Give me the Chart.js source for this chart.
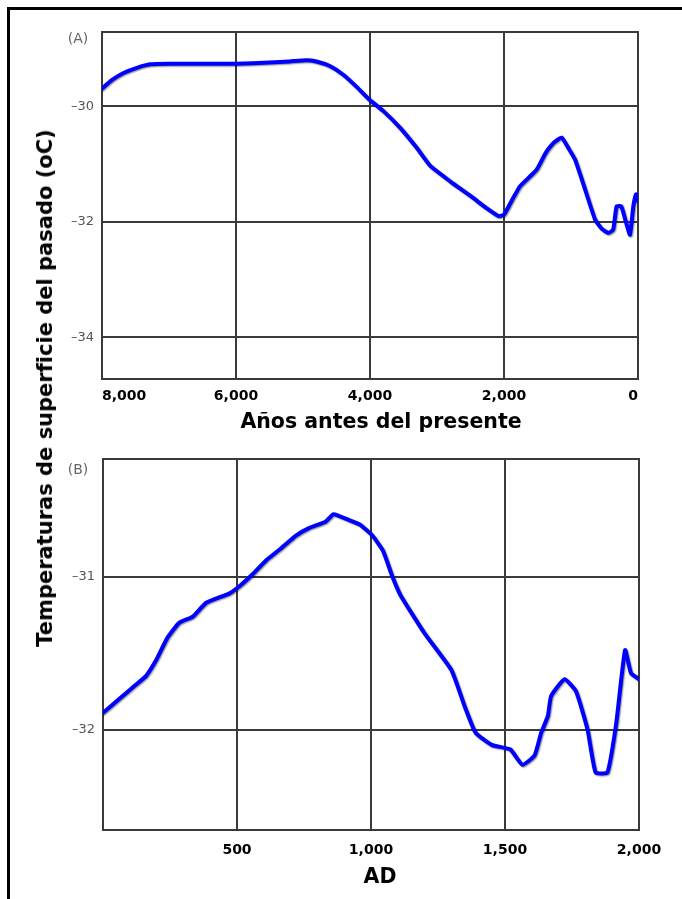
<!DOCTYPE html>
<html lang="es">
<head>
<meta charset="utf-8">
<title>Temperaturas de superficie del pasado</title>
<script src="https://cdn.jsdelivr.net/npm/chart.js@4.4.1/dist/chart.umd.min.js"></script>
<style>
  html, body { margin: 0; padding: 0; background: #fff; }
  body { width: 682px; height: 899px; position: relative; overflow: hidden; }
  .frame { position: absolute; left: 7px; top: 7px; width: 720px; height: 940px;
           border-left: 3px solid #000; border-top: 3px solid #000; }
  canvas { position: absolute; left: 0; }
  #chartA { top: 0; }
  #chartB { top: 440px; }
  .txt { position: absolute; white-space: nowrap; transform: translate(-50%, -50%);
         font-family: "DejaVu Sans", sans-serif; }
  .title { font-weight: bold; font-size: 20.5px; color: #000; }
  .panel { font-size: 14px; color: #666; }
  #ytitle { left: 45px; top: 388px; transform: translate(-50%, -50%) rotate(-90deg); font-size: 21px; }
  #xtitleA { left: 381px; top: 421px; }
  #xtitleB { left: 380px; top: 876px; }
  #labA { left: 78px; top: 38px; }
  #labB { left: 78px; top: 469px; }
</style>
</head>
<body>
<div class="frame"></div>
<canvas id="chartA" width="682" height="440"></canvas>
<canvas id="chartB" width="682" height="459"></canvas>
<div class="txt title" id="ytitle">Temperaturas de superficie del pasado (oC)</div>
<div class="txt title" id="xtitleA">Años antes del presente</div>
<div class="txt title" id="xtitleB">AD</div>
<div class="txt panel" id="labA">(A)</div>
<div class="txt panel" id="labB">(B)</div>

<script>
// (A) Holocene record: years before present and surface temperature (°C)
const yearsA = [8000, 7850, 7680, 7480, 7280, 7000, 6500, 6000, 5500, 5200, 4950, 4800,
                4600, 4400, 4200, 4020, 3800, 3550, 3300, 3100, 2800, 2500, 2250, 2080,
                2000, 1880, 1760, 1620, 1510, 1400, 1360, 1250, 1140, 1040, 940, 800,
                640, 540, 440, 370, 320, 250, 190, 120, 70, 30, 0];
const tempA  = [-29.69, -29.54, -29.42, -29.33, -29.27, -29.26, -29.26, -29.26, -29.24, -29.22, -29.20, -29.22,
                -29.30, -29.45, -29.66, -29.87, -30.08, -30.37, -30.72, -31.03, -31.30, -31.55, -31.77, -31.90,
                -31.87, -31.62, -31.38, -31.22, -31.09, -30.85, -30.77, -30.62, -30.54, -30.72, -30.92, -31.40,
                -31.96, -32.12, -32.19, -32.13, -31.73, -31.73, -31.96, -32.22, -31.73, -31.52, -31.64];

// (B) last two millennia: calendar year AD and surface temperature (°C)
const yearsB = [0, 60, 120, 160, 200, 240, 285, 335, 385, 470, 510, 560, 610, 660, 720,
                770, 830, 860, 920, 960, 1005, 1045, 1080, 1110, 1200, 1300, 1350, 1390,
                1450, 1520, 1565, 1610, 1635, 1660, 1672, 1722, 1765, 1808, 1838, 1882,
                1915, 1948, 1970, 2000];
const tempB  = [-31.89, -31.80, -31.71, -31.65, -31.54, -31.40, -31.30, -31.26, -31.17, -31.11, -31.06, -30.98, -30.89, -30.82, -30.73,
                -30.68, -30.64, -30.59, -30.63, -30.66, -30.73, -30.83, -31.00, -31.12, -31.37, -31.61, -31.85, -32.02,
                -32.10, -32.13, -32.23, -32.17, -32.02, -31.91, -31.78, -31.67, -31.75, -32.00, -32.28, -32.28,
                -31.96, -31.48, -31.63, -31.67];

// tick positions and their printed labels
const xTicksA = [0, 2000, 4000, 6000, 8000];
const xTickLabelsA = ['0', '2,000', '4,000', '6,000', '8,000'];
const yTicksA = [-34, -32, -30];
const yTickLabelsA = ['\u201334', '\u201332', '\u201330'];

const xTicksB = [0, 500, 1000, 1500, 2000];
const xTickLabelsB = ['', '500', '1,000', '1,500', '2,000'];
const yTicksB = [-32, -31];
const yTickLabelsB = ['\u201332', '\u201331'];

const GRID = '#3a3a3a';

// soft dark edge under the blue trace
const traceShadow = {
  id: 'traceShadow',
  beforeDatasetDraw(chart) {
    const c = chart.ctx;
    c.save();
    c.shadowColor = 'rgba(0,0,0,0.45)';
    c.shadowBlur = 1.5;
    c.shadowOffsetX = 1;
    c.shadowOffsetY = 1;
  },
  afterDatasetDraw(chart) { chart.ctx.restore(); }
};

// box round the plotting area
const plotFrame = {
  id: 'plotFrame',
  beforeDatasetsDraw(chart) {
    const a = chart.chartArea, c = chart.ctx;
    c.save();
    c.strokeStyle = GRID;
    c.lineWidth = 2;
    c.strokeRect(a.left, a.top, a.right - a.left, a.bottom - a.top);
    c.restore();
  }
};

function labelFor(ticks, labels) {
  return (v) => { const i = ticks.indexOf(v); return i >= 0 ? labels[i] : ''; };
}

function makeChart(id, xs, ys, opt) {
  const points = xs.map((x, i) => ({ x: x, y: ys[i] }));
  return new Chart(document.getElementById(id), {
    type: 'line',
    data: {
      datasets: [{
        data: points,
        borderColor: '#0000ff',
        borderWidth: 4,
        pointRadius: 0,
        tension: 0.15,
        borderJoinStyle: 'round',
        borderCapStyle: 'round',
        fill: false
      }]
    },
    options: {
      responsive: false,
      animation: false,
      events: [],
      layout: { padding: opt.padding },
      plugins: { legend: { display: false }, tooltip: { enabled: false } },
      scales: {
        x: {
          type: 'linear',
          min: opt.xMin, max: opt.xMax, reverse: opt.reverse,
          afterFit: (s) => { s.height = opt.xHeight; },
          afterBuildTicks: (s) => { s.ticks = opt.xTicks.map(v => ({ value: v })); },
          grid: { color: GRID, lineWidth: 2, drawTicks: false },
          border: { display: false },
          ticks: {
            autoSkip: false, maxRotation: 0, align: opt.xAlign,
            padding: opt.xPad, color: '#000',
            font: { family: 'DejaVu Sans', size: 14, weight: 'bold' },
            callback: labelFor(opt.xTicks, opt.xLabels)
          }
        },
        y: {
          type: 'linear',
          min: opt.yMin, max: opt.yMax,
          afterFit: (s) => { s.width = opt.yWidth; },
          afterBuildTicks: (s) => { s.ticks = opt.yTicks.map(v => ({ value: v })); },
          grid: { color: GRID, lineWidth: 2, drawTicks: false },
          border: { display: false },
          ticks: {
            autoSkip: false, padding: 8, color: '#555',
            font: { family: 'DejaVu Sans', size: 13 },
            callback: labelFor(opt.yTicks, opt.yLabels)
          }
        }
      }
    },
    plugins: [plotFrame, traceShadow]
  });
}

makeChart('chartA', yearsA, tempA, {
  padding: { left: 0, top: 32, right: 44, bottom: 0 },
  xMin: 0, xMax: 8000, reverse: true, xHeight: 61, xPad: 9, xAlign: 'inner',
  xTicks: xTicksA, xLabels: xTickLabelsA,
  yMin: -34.72, yMax: -28.71, yWidth: 102,
  yTicks: yTicksA, yLabels: yTickLabelsA
});

makeChart('chartB', yearsB, tempB, {
  padding: { left: 0, top: 19, right: 43, bottom: 0 },
  xMin: 0, xMax: 2000, reverse: false, xHeight: 69, xPad: 12, xAlign: 'center',
  xTicks: xTicksB, xLabels: xTickLabelsB,
  yMin: -32.657, yMax: -30.229, yWidth: 103,
  yTicks: yTicksB, yLabels: yTickLabelsB
});
</script>
</body>
</html>
